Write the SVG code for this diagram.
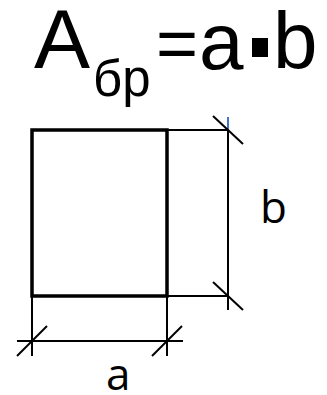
<svg xmlns="http://www.w3.org/2000/svg" width="327" height="395" viewBox="0 0 327 395">
<style>
.t{font-family:"Liberation Sans",Arial,sans-serif;fill:#000}
.lbl{font-family:"Open Sans","Liberation Sans",sans-serif;fill:#000;font-size:44px}
.thin{stroke:#000;stroke-width:2;fill:none}
.thick{stroke:#000;stroke-width:3.5;fill:none}
</style>
<rect width="327" height="395" fill="#fff"/>
<g id="formula">
<text class="t" x="34" y="68" font-size="84">A</text>
<text class="t" x="93" y="96" font-size="51">бр</text>
<text class="t" x="156" y="68" font-size="72">=</text>
<text class="t" x="199" y="69" font-size="80">a</text>
<rect x="252" y="38" width="16" height="19" fill="#000"/>
<text class="t" x="273" y="68" font-size="80">b</text>
</g>
<g id="rectangle">
<rect class="thick" x="32" y="130" width="135" height="166"/>
</g>
<g id="connectors">
<line class="thin" x1="167" y1="130" x2="228" y2="130"/>
<line class="thin" x1="167" y1="296" x2="228" y2="296"/>
<line class="thin" x1="228" y1="130" x2="228" y2="310"/>
<line x1="228" y1="117" x2="228" y2="130" stroke="#4472C4" stroke-width="2"/>
<line class="thin" x1="213" y1="116" x2="243" y2="144"/>
<line class="thin" x1="213" y1="282" x2="243" y2="310"/>
<line class="thin" x1="32" y1="296" x2="32" y2="356"/>
<line class="thin" x1="167" y1="296" x2="167" y2="356"/>
<line class="thin" x1="17" y1="341" x2="183" y2="341"/>
<line class="thin" x1="17" y1="356" x2="47" y2="326"/>
<line class="thin" x1="152" y1="356" x2="182" y2="326"/>
</g>
<g id="label-b"><text class="lbl" x="260" y="223">b</text></g>
<g id="label-a"><text class="lbl" x="106" y="390">a</text></g>
</svg>
